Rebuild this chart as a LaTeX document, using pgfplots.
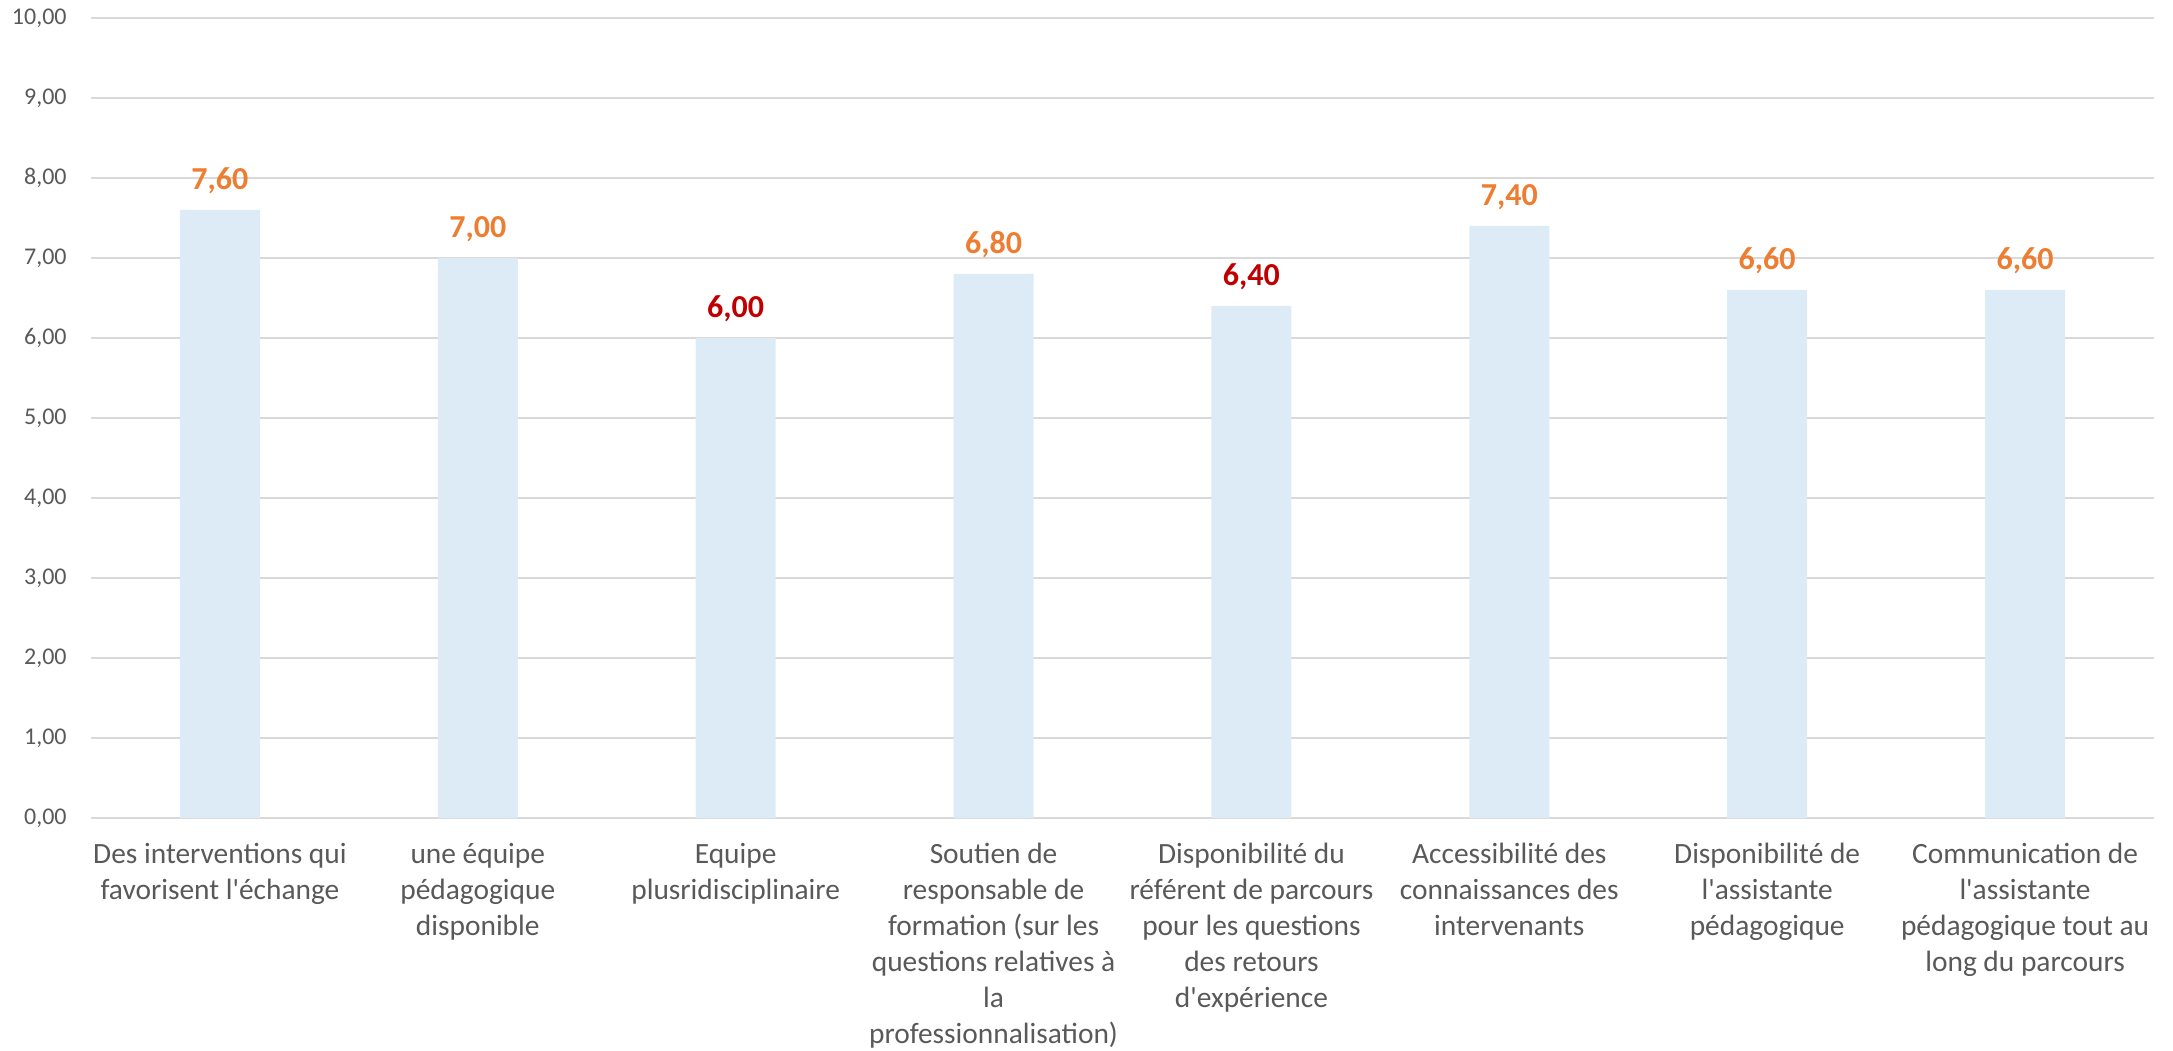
\documentclass[border=0pt]{standalone}
\usepackage{pgfplots}
\pgfplotsset{compat=1.18}
\usepackage{fontspec}
\setmainfont{Carlito}
\definecolor{barfill}{RGB}{221,235,247}
\definecolor{orlab}{RGB}{237,125,49}
\definecolor{redlab}{RGB}{192,0,0}
\definecolor{txtgray}{RGB}{89,89,89}
\definecolor{gridgray}{RGB}{217,217,217}
\newcommand{\q}{\textquotesingle}
\begin{document}
\begin{tikzpicture}
\begin{axis}[
  scale only axis,
  width=1031.5pt, height=400pt,
  xmin=-0.5, xmax=7.5, ymin=0, ymax=10,
  ytick={0,1,...,10},
  xtick={0,1,...,7},
  xticklabels={
    {Des interventions qui\\favorisent l\q échange},
    {une équipe\\pédagogique\\disponible},
    {Equipe\\plusridisciplinaire},
    {Soutien de\\responsable de\\formation (sur les\\questions relatives à\\la\\professionnalisation)},
    {Disponibilité du\\référent de parcours\\pour les questions\\des retours\\d\q expérience},
    {Accessibilité des\\connaissances des\\intervenants},
    {Disponibilité de\\l\q assistante\\pédagogique},
    {Communication de\\l\q assistante\\pédagogique tout au\\long du parcours}},
  axis line style={draw=none},
  tick style={draw=none},
  ymajorgrids,
  grid style={gridgray, line width=0.8pt},
  yticklabel style={font=\fontsize{12}{14}\selectfont, text=txtgray, inner sep=0pt, xshift=-12pt},
  xticklabel style={font=\fontsize{14.7}{18}\selectfont, text=txtgray, align=center, inner sep=0pt, anchor=north, yshift=-8pt},
  ybar, bar width=40pt,
  clip=false,
  nodes near coords,
  nodes near coords style={font=\bfseries\fontsize{16}{18}\selectfont, anchor=base, inner sep=0pt, yshift=10pt},
  /pgf/number format/.cd, use comma, fixed, precision=2, fixed zerofill, assume math mode=true,
]
\addplot[fill=barfill, draw=none, bar shift=0pt, nodes near coords style={text=orlab}]
  coordinates {(0,7.6) (1,7.0) (3,6.8) (5,7.4) (6,6.6) (7,6.6)};
\addplot[fill=barfill, draw=none, bar shift=0pt, nodes near coords style={text=redlab}]
  coordinates {(2,6.0) (4,6.4)};
\path (rel axis cs:0,0) ++(-45.5pt,-116pt) coordinate (bbsw);
\path (rel axis cs:1,1) ++(9.5pt,9pt) coordinate (bbne);
\path (bbsw) rectangle (bbne);
\end{axis}
\end{tikzpicture}
\end{document}
